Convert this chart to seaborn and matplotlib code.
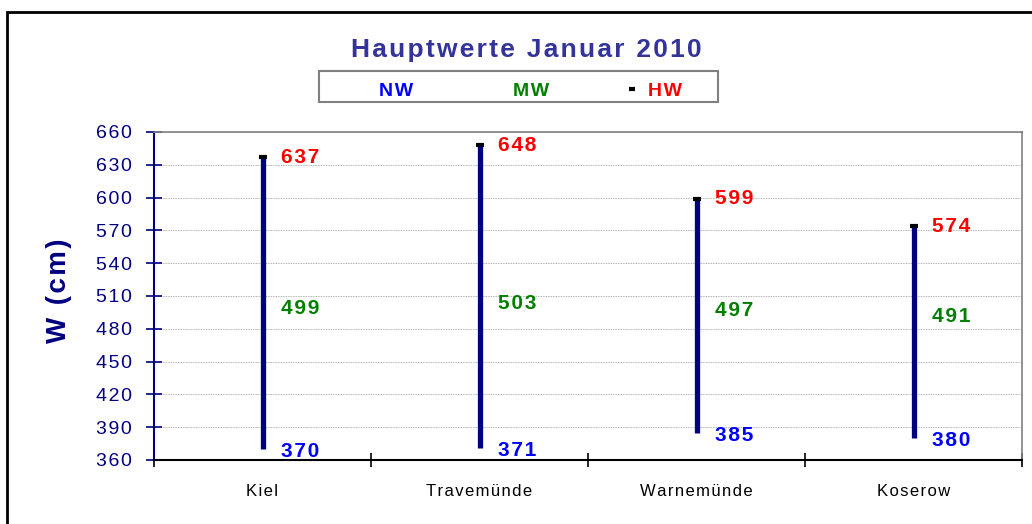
import numpy as np
import pandas as pd
import matplotlib
matplotlib.use("Agg")
import matplotlib.pyplot as plt
from matplotlib.lines import Line2D
from matplotlib.patches import Rectangle
import seaborn as sns

# data
stations = ["Kiel", "Travemünde", "Warnemünde", "Koserow"]
nw = [370, 371, 385, 380]
mw = [499, 503, 497, 491]
hw = [637, 648, 599, 574]
y_ticks = list(range(360, 661, 30))

NAVY = "#000080"
TITLE_COL = "#333399"


def spaced(s):
    # fake letter spacing like the Excel original
    return "\u200a".join(s)


sns.set_theme(style="white")
plt.rcParams["font.family"] = ["Liberation Sans", "DejaVu Sans"]

df = pd.DataFrame({"station": stations, "NW": nw, "MW": mw, "HW": hw})

fig = plt.figure(figsize=(10.32, 5.24), dpi=100)
ax = fig.add_axes([154 / 1032, 1 - 460 / 524, 868 / 1032, 328 / 524])

# range lines NW -> HW
ax.vlines(x=df["station"], ymin=df["NW"], ymax=df["HW"], color=NAVY, lw=3.8, zorder=3)
# HW marker
sns.scatterplot(data=df, x="station", y="HW", marker="_", s=40, color="black",
                linewidth=3, ax=ax, zorder=4, legend=False)

for i, row in df.iterrows():
    for col, c in (("HW", "#FF0000"), ("MW", "#008000"), ("NW", "#0000FF")):
        ax.annotate(spaced(str(row[col])), xy=(i, row[col]), xytext=(13, -2 if col == "NW" else 0),
                    textcoords="offset points", ha="left", va="center",
                    color=c, fontsize=15, fontweight="bold")

ax.set_xlim(-0.5, 3.5)
ax.set_ylim(360, 660)
ax.set_yticks(y_ticks)
ax.set_yticklabels([spaced(str(v)) for v in y_ticks], color=NAVY, fontsize=14)
ax.tick_params(axis="y", direction="inout", length=12, width=1.2, color=NAVY, pad=10, left=True)

# category boundaries as major ticks, names as minor labels
ax.set_xticks([-0.5, 0.5, 1.5, 2.5, 3.5])
ax.set_xticklabels([])
ax.set_xticks(range(len(stations)), minor=True)
ax.set_xticklabels([spaced(s) for s in stations], minor=True, fontsize=12, color="black")
ax.tick_params(axis="x", which="major", direction="inout", length=10, width=1.2,
               color="black", bottom=True)
ax.tick_params(axis="x", which="minor", length=0, pad=17)
ax.set_xlabel("")

ax.grid(axis="y", color="#999999", linestyle=(0, (1, 1)), linewidth=0.6)
ax.set_axisbelow(True)
for side in ("top", "right"):
    ax.spines[side].set_color("#808080")
    ax.spines[side].set_linewidth(1.2)
ax.spines["left"].set_color(NAVY)
ax.spines["left"].set_linewidth(1.5)
ax.spines["bottom"].set_color("black")
ax.spines["bottom"].set_linewidth(1.5)

ax.set_ylabel(spaced("W (cm)"), fontsize=20, fontweight="bold", color=NAVY)
ax.yaxis.set_label_coords(-0.094, 0.515)

fig.text(526 / 1032, 1 - 50 / 524, spaced("Hauptwerte Januar 2010"), ha="center", va="center",
         fontsize=19, fontweight="bold", color=TITLE_COL)

# legend box
fig.patches.append(Rectangle((319 / 1032, 1 - 102 / 524), 399 / 1032, 31 / 524,
                             transform=fig.transFigure, fill=False, edgecolor="#808080", lw=1.5))
handles = [Line2D([], [], linestyle="none"), Line2D([], [], linestyle="none"),
           Line2D([], [], linestyle="none", marker="_", color="black", markersize=5, mew=3)]
leg = fig.legend(handles, [spaced("NW"), spaced("MW"), spaced("HW")], loc="center", ncol=3,
                 frameon=False, bbox_to_anchor=(518 / 1032, 1 - 91 / 524), handlelength=1.0,
                 handletextpad=0.3, columnspacing=3.8, prop={"weight": "bold", "size": 14})
for t, c in zip(leg.get_texts(), ["#0000FF", "#008000", "#FF0000"]):
    t.set_color(c)

# outer chart border (right and bottom edges fall outside the image)
fig.patches.append(Rectangle((7 / 1032, -0.1), 1.2, 1.1 - 12 / 524,
                             transform=fig.transFigure, fill=False, edgecolor="black", lw=2))

fig.savefig("out.png", dpi=100)
